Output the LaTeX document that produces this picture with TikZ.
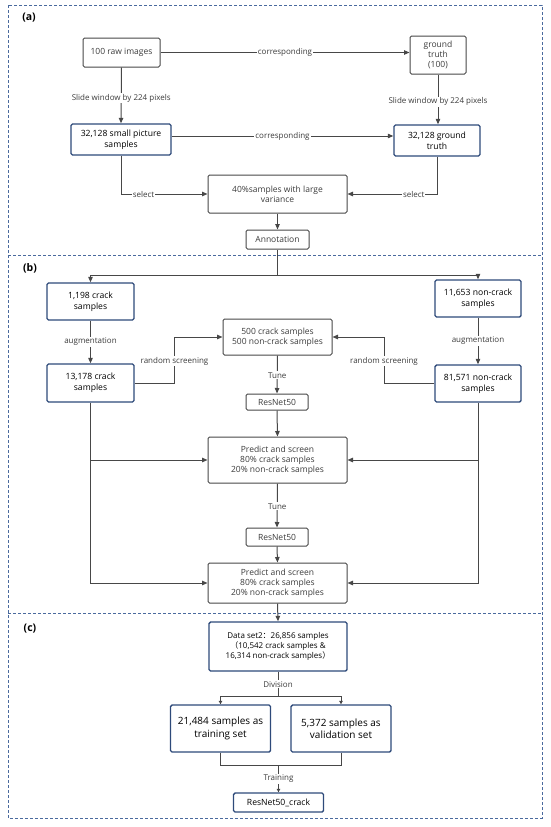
\documentclass[tikz,border=0pt]{standalone}
\usepackage{fontspec}
\setmainfont{Open Sans}
\newfontfamily\cjk{Noto Sans CJK SC}
\usetikzlibrary{arrows.meta,calc}
\definecolor{framec}{HTML}{4A6A9E}
\definecolor{boxblue}{HTML}{2E4A7A}
\definecolor{linec}{HTML}{474747}
\definecolor{textg}{HTML}{3C3C3C}
\tikzset{
  graybox/.style={draw=linec, line width=1pt, rounded corners=1.5pt, fill=white,
    font=\fontsize{8.5}{10}\selectfont, text=textg, align=center, inner sep=1pt},
  bluebox/.style={draw=boxblue, line width=1.4pt, rounded corners=1.5pt, fill=white,
    font=\fontsize{8.6}{10.6}\selectfont, text=black, align=center, inner sep=1pt},
  bigblue/.style={bluebox, font=\fontsize{10}{12.4}\selectfont},
  lbl/.style={fill=white, font=\fontsize{8}{9.4}\selectfont, text=textg, inner sep=1pt},
  conn/.style={draw=linec, line width=1pt},
  arr/.style={conn, -{Triangle[length=5.5pt,width=4.5pt]}},
  smallarr/.style={conn, -{Triangle[length=3.5pt,width=3.5pt]}},
  frame/.style={draw=framec, dash pattern=on 3pt off 2pt, line width=0.8pt},
  seclbl/.style={font=\bfseries\fontsize{10.5}{12}\selectfont, text=black},
}
\begin{document}
\begin{tikzpicture}[x=1pt,y=-1pt]
\useasboundingbox (0,0) rectangle (550,827);
% frames
\draw[frame] (8,5) rectangle (542,818);
\draw[frame] (8,255) -- (542,255);
\draw[frame] (8,613) -- (542,613);
\node[seclbl] (la) at (29,18) {(a)};
\node[seclbl] (lb) at (30,268) {(b)};
\node[seclbl] (lc) at (30,629) {(c)};

% (a)
\node[graybox, minimum width=77pt, minimum height=29pt] (raw) at (121.5,52.5) {100 raw images};
\node[graybox, minimum width=56pt, minimum height=38pt] (gt) at (438,55) {ground\\truth\\(100)};
\node[bluebox, minimum width=100pt, minimum height=31pt] (small) at (121,139.5) {32,128 small picture\\samples};
\node[bluebox, minimum width=86pt, minimum height=31pt] (gt2) at (437,140.5) {32,128 ground\\truth};
\node[graybox, minimum width=139pt, minimum height=38pt] (var) at (277.5,194) {40\%samples with large\\variance};
\node[graybox, minimum width=63pt, minimum height=19pt] (ann) at (277.5,239.5) {Annotation};

\draw[arr] (raw.east) -- node[lbl]{corresponding} (raw.east -| gt.west);
\draw[arr] (raw.south) -- node[lbl, pos=0.55]{Slide window by 224 pixels} (small.north);
\draw[arr] (gt.south) -- node[lbl, pos=0.55]{Slide window by 224 pixels} (gt.south |- gt2.north);
\draw[arr] ($(small.east)+(0,-3.5)$) -- node[lbl]{corresponding} ($(gt2.west)+(0,-4.5)$);
\draw[arr] (small.south) |- node[lbl, pos=0.63]{select} (var.west);
\draw[arr] (gt2.south) |- node[lbl, pos=0.63]{select} (var.east);
\draw[arr] (var.south) -- (ann.north);

% (b)
\node[bluebox, minimum width=87pt, minimum height=37pt] (c1198) at (90.5,301.5) {1,198 crack\\samples};
\node[bluebox, minimum width=86pt, minimum height=37pt] (n11653) at (478,298.5) {11,653 non-crack\\samples};
\node[graybox, minimum width=109pt, minimum height=36pt] (s500) at (277.5,337) {500 crack samples\\500 non-crack samples};
\node[bluebox, minimum width=87pt, minimum height=38pt] (c13178) at (90.5,383) {13,178 crack\\samples};
\node[bluebox, minimum width=86pt, minimum height=37pt] (n81571) at (478,383.5) {81,571 non-crack\\samples};
\node[graybox, minimum width=62pt, minimum height=16pt] (res1) at (277,402) {ResNet50};
\node[graybox, minimum width=139pt, minimum height=46pt] (pred1) at (277.5,460) {Predict and screen\\80\% crack samples\\20\% non-crack samples};
\node[graybox, minimum width=62pt, minimum height=18pt] (res2) at (277,537) {ResNet50};
\node[graybox, minimum width=139pt, minimum height=40pt] (pred2) at (277.5,583) {Predict and screen\\80\% crack samples\\20\% non-crack samples};

\draw[conn] (ann.south) -- ++(0,26) coordinate (split);
\draw[arr] (split) -| (c1198.north);
\draw[arr] (split) -| (n11653.north);
\draw[arr] (c1198.south) -- node[lbl]{augmentation} (c13178.north);
\draw[arr] (n11653.south) -- node[lbl]{augmentation} (n81571.north);
\coordinate (rsL) at (174.5,337);
\coordinate (rsR) at (384,337);
\draw[arr] (c13178.east) -| node[lbl, pos=0.74]{random screening} (rsL) -- (s500.west);
\draw[arr] (n81571.west) -| node[lbl, pos=0.74]{random screening} (rsR) -- (s500.east);
\draw[arr] (s500.south) -- node[lbl, pos=0.52]{Tune} (res1.north);
\draw[arr] (res1.south) -- (pred1.north);
\draw[arr] (pred1.south) -- node[lbl, pos=0.52]{Tune} (res2.north);
\draw[arr] (res2.south) -- (pred2.north);
\draw[arr] (c13178.south) |- (pred2.west);
\draw[arr] (c13178.south |- pred1.west) -- (pred1.west);
\draw[arr] (n81571.south) |- (pred2.east);
\draw[arr] (n81571.south |- pred1.east) -- (pred1.east);

% (c)
\node[bluebox, font=\fontsize{8}{10}\selectfont, minimum width=138pt, minimum height=49pt] (data) at (278,646.5)
  {Data set2{\cjk ：}26,856 samples\\{\cjk （}10,542 crack samples \&\\16,314 non-crack samples{\cjk ）}};
\node[bigblue, minimum width=100pt, minimum height=47pt] (train) at (220.5,728.5) {21,484 samples as\\training set};
\node[bigblue, minimum width=100pt, minimum height=47pt] (val) at (341,728.5) {5,372 samples as\\validation set};
\node[bluebox, minimum width=90pt, minimum height=19pt] (crack) at (278.5,802.5) {ResNet50\_crack};

\draw[arr] (pred2.south) -- (data.north);
\draw[conn] (data.south) -- node[lbl]{Division} ++(0,25) coordinate (dsplit);
\draw[smallarr] (dsplit) -| (train.north);
\draw[smallarr] (dsplit) -| (val.north);
\draw[conn] (train.south) -- ++(0,13) coordinate (tl) -| (val.south);
\draw[smallarr] (tl -| crack.north) -- node[lbl]{Training} (crack.north);
\end{tikzpicture}
\end{document}
